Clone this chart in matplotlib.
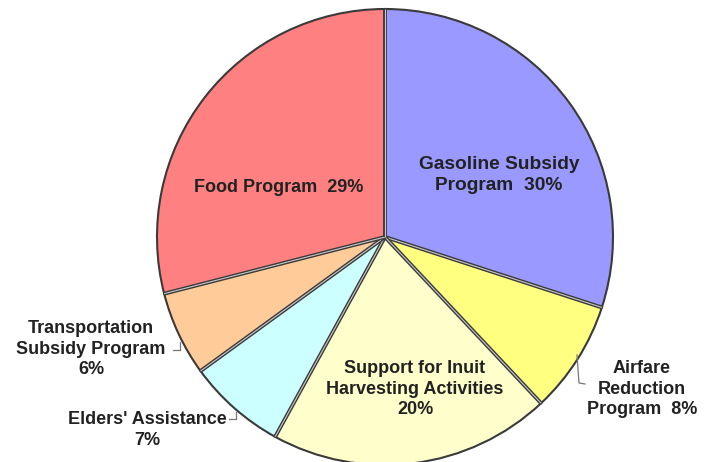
import matplotlib.pyplot as plt
import numpy as np

# slices, clockwise from 12 o'clock
labels = ['Gasoline Subsidy\nProgram  30%', 'Airfare\nReduction\nProgram  8%',
          'Support for Inuit\nHarvesting Activities\n20%', "Elders' Assistance\n7%",
          'Transportation\nSubsidy Program\n6%', 'Food Program  29%']
values = [30, 8, 20, 7, 6, 29]
colors = ['#9999FF', '#FFFF80', '#FFFFCC', '#CCFFFF', '#FFCC99', '#FF8080']

plt.rcParams['font.family'] = ['Liberation Sans', 'DejaVu Sans']

fig = plt.figure(figsize=(7.12, 4.62), dpi=100)
ax = fig.add_axes([0, 0, 1, 1])

cx, cy, r = 385, 462 - 237, 228
wedges, _ = ax.pie(values, colors=colors, startangle=90, counterclock=False,
                   center=(cx, cy), radius=r, frame=True,
                   wedgeprops=dict(edgecolor='#3a3a3a', linewidth=1.5))
ax.set_xlim(0, 712)
ax.set_ylim(0, 462)
ax.set_aspect('equal')
ax.axis('off')

# divider lines: dark with a light core
for w in wedges:
    t = np.deg2rad(w.theta1)
    xs = [cx, cx + r * np.cos(t)]
    ys = [cy, cy + r * np.sin(t)]
    ax.plot(xs, ys, color='#3a3a3a', lw=2.8, solid_capstyle='butt')
    ax.plot(xs, ys, color='#c8c8c8', lw=0.8, solid_capstyle='butt')

# label positions (pixel coords from top-left)
label_pos = [(499, 175), (642, 389), (415, 389), (147, 430), (91, 349), (279, 187)]
label_size = [13.8, 13, 13, 13, 13, 13]
for lab, (x, y), fs in zip(labels, label_pos, label_size):
    ax.text(x, 462 - y, lab, ha='center', va='center', fontsize=fs,
            fontweight='bold', color='#222222', linespacing=1.3)

# leader lines
lc = '#777777'
ax.plot([173, 180, 180], [462 - 350, 462 - 350, 462 - 342], color=lc, lw=0.9)
ax.plot([229, 236, 236], [462 - 419, 462 - 419, 462 - 412], color=lc, lw=0.9)
ax.plot([577, 579, 585], [462 - 355, 462 - 383, 462 - 384], color=lc, lw=0.9)

fig.savefig('out.png', dpi=100)
